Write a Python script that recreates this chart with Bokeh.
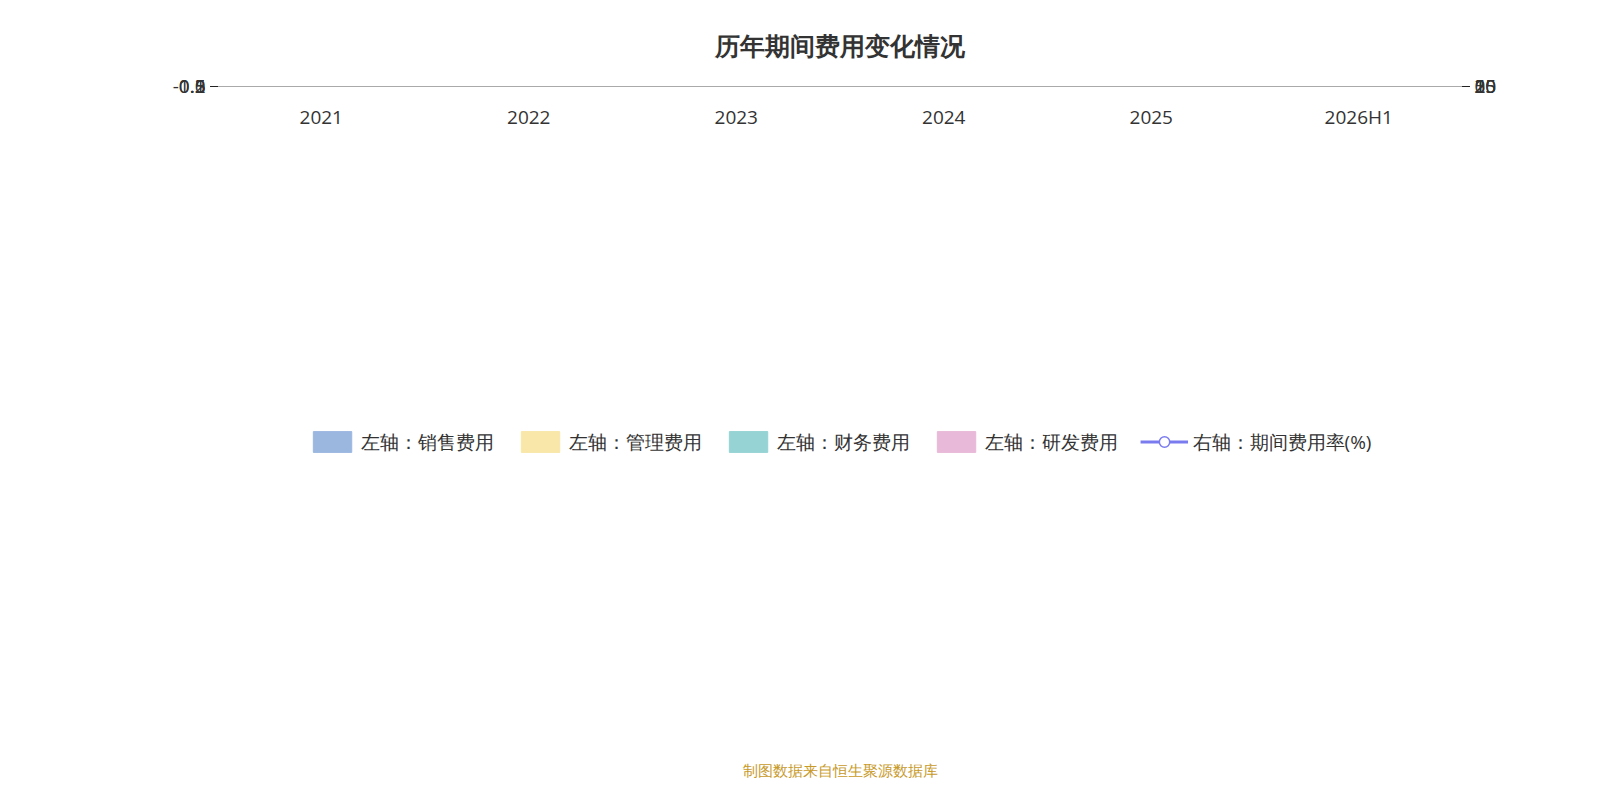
from bokeh.plotting import figure
from bokeh.models import (FactorRange, Range1d, LinearAxis, FixedTicker, CustomJSTickFormatter,
                          Legend, LegendItem, Title, Span, ColumnDataSource, Label)
from bokeh.embed import file_html
from bokeh.resources import INLINE
from bokeh.core.properties import value

years = ["2021", "2022", "2023", "2024", "2025", "2026H1"]
sales = [1.15, 0.83, 0.91, 0.70, 0.58, 0.30]
mgmt = [0.68, 0.54, 0.56, 0.58, 0.54, 0.28]
fin = [-0.06, -0.10, -0.12, -0.16, -0.05, 0.07]
rd = [0.10, 0.08, 0.07, 0.08, 0.08, 0.04]
rate = [23.4, 19.9, 21.6, 21.4, 9.1, 5.8]

FONT = "Open Sans"
p = figure(x_range=FactorRange(*years), y_range=Range1d(-0.5, 2), width=1568, height=784,
           output_backend="svg", toolbar_location=None,
           min_border_left=217, min_border_right=106, min_border_top=30)
p.extra_y_ranges = {"r": Range1d(0, 25)}

m_top = [s + m for s, m in zip(sales, mgmt)]
f_bot = [mt if f > 0 else f for mt, f in zip(m_top, fin)]
f_top = [mt + f if f > 0 else 0 for mt, f in zip(m_top, fin)]
r_bot = [max(mt, ft) for mt, ft in zip(m_top, f_top)]
r_top = [b + r for b, r in zip(r_bot, rd)]
src = ColumnDataSource(dict(x=years, s=sales, mt=m_top, fb=f_bot, ft=f_top, rb=r_bot, rt=r_top,
                            mid=[v / 2 for v in sales], lab=[f"{v:g}" for v in sales], rate=rate))

W = 0.8
b1 = p.vbar(x="x", bottom=0, top="s", width=W, color="#9bb7e0", source=src)
b2 = p.vbar(x="x", bottom="s", top="mt", width=W, color="#f8e7a8", source=src)
b3 = p.vbar(x="x", bottom="fb", top="ft", width=W, color="#96d3d4", source=src)
b4 = p.vbar(x="x", bottom="rb", top="rt", width=W, color="#e8b9d8", source=src)
p.text(x="x", y="mid", text="lab", source=src, text_align="center", text_baseline="middle",
       text_font=value(FONT), text_font_size="21px", text_color="#111")
ln = p.line(x="x", y="rate", source=src, y_range_name="r", color="#7b7bf0", line_width=3)
sc = p.scatter(x="x", y="rate", source=src, y_range_name="r", size=8, fill_color="white",
               line_color="#7b7bf0", line_width=1.5)

p.add_layout(Span(location=0, dimension="width", line_color="#222", line_width=1.2))

p.xgrid.grid_line_color = None
p.ygrid.grid_line_color = "#c8c8c8"
p.outline_line_color = None

fmt = CustomJSTickFormatter(code="return tick.toString();")
p.yaxis.ticker = FixedTicker(ticks=[-0.5, 0, 0.5, 1, 1.5, 2])
p.yaxis.formatter = fmt
ra = LinearAxis(y_range_name="r", ticker=FixedTicker(ticks=[0, 5, 10, 15, 20, 25]), formatter=fmt)
p.add_layout(ra, "right")
for ax in [p.yaxis[0], ra, p.xaxis[0]]:
    ax.major_label_text_font = FONT
    ax.major_label_text_font_size = "19px"
    ax.major_label_text_color = "#333"
    ax.axis_line_color = "#222"
    ax.major_tick_line_color = "#222"
    ax.minor_tick_line_color = None
    ax.major_tick_out = 7
    ax.major_tick_in = 0
p.xaxis.axis_line_color = "#aaa"
p.xaxis.major_tick_line_color = None
p.xaxis.major_label_standoff = 10

lab1 = Label(x=-62, y=2.0, x_units="screen", y_units="data", text="(亿元)", angle=-1.5708,
             text_color="red", text_font_size="15px", text_font=FONT,
             text_align="left", text_baseline="middle")
p.add_layout(lab1)
lab2 = Label(x=1245 + 78, y=2.12, x_units="screen", y_units="data", text="(%)", angle=-1.5708,
             text_color="red", text_font_size="15px", text_font=FONT,
             text_align="left", text_baseline="middle")
p.add_layout(lab2)

legend = Legend(items=[LegendItem(label="左轴：销售费用", renderers=[b1]),
                       LegendItem(label="左轴：管理费用", renderers=[b2]),
                       LegendItem(label="左轴：财务费用", renderers=[b3]),
                       LegendItem(label="左轴：研发费用", renderers=[b4]),
                       LegendItem(label="右轴：期间费用率(%)", renderers=[ln, sc])],
                orientation="horizontal", location="center", label_text_font=FONT,
                label_text_font_size="19px", label_text_color="#333", glyph_width=48,
                glyph_height=26, spacing=22, border_line_color=None, margin=60, padding=10)
p.add_layout(legend, "below")

src_t = Title(text="制图数据来自恒生聚源数据库", align="center", text_color="#c89a2a",
              text_font=FONT, text_font_size="15px", text_font_style="normal")
p.add_layout(src_t, "below")
t = Title(text="历年期间费用变化情况", align="center", text_font=FONT, text_font_size="25px",
          text_color="#333", text_font_style="bold", standoff=50)
p.add_layout(t, "above")

open("out.html", "w").write(file_html(p, INLINE))
